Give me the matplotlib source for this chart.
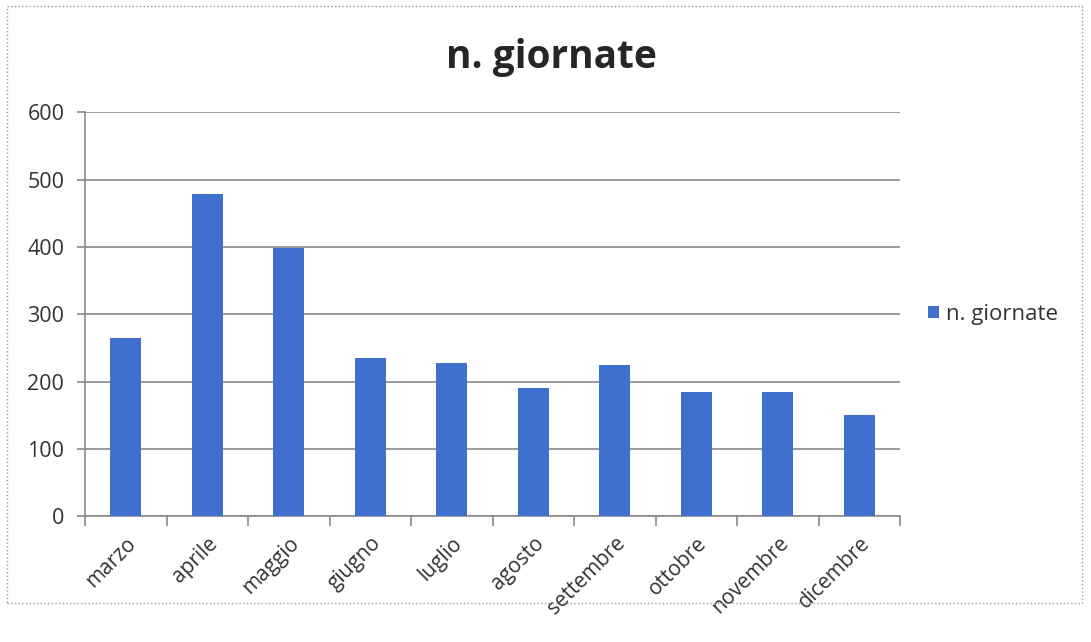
import matplotlib
matplotlib.use("Agg")
import matplotlib.pyplot as plt
from matplotlib.patches import Rectangle
import numpy as np

# monthly values
mesi = ["marzo", "aprile", "maggio", "giugno", "luglio",
        "agosto", "settembre", "ottobre", "novembre", "dicembre"]
giornate = [265, 479, 399, 235, 227, 191, 225, 184, 184, 150]
y_ticks = [0, 100, 200, 300, 400, 500, 600]

plt.rcParams['font.family'] = ['Open Sans', 'DejaVu Sans']

fig = plt.figure(figsize=(10.91, 6.42), dpi=100)
ax = fig.add_axes([0.078, 0.196, 0.747, 0.629])

x = np.arange(len(mesi))
ax.bar(x, giornate, width=0.38, color='#3f6fcf', label='n. giornate', zorder=3)

ax.set_xlim(-0.5, len(mesi) - 0.5)
ax.set_ylim(0, 600)
ax.set_yticks(y_ticks)
ax.set_yticklabels([str(v) for v in y_ticks], fontsize=15.5, color='#333333')
ax.yaxis.grid(True, color='#8a8a8a', linewidth=1.2, zorder=0)
ax.tick_params(axis='y', length=6, color='#8a8a8a', width=1.2, pad=9)

# category ticks sit between the bars, labels under the bars
ax.set_xticks(np.arange(len(mesi) + 1) - 0.5)
ax.set_xticklabels([])
ax.set_xticks(x, minor=True)
ax.set_xticklabels(mesi, minor=True, rotation=45, ha='right', va='top',
                   rotation_mode='anchor', fontsize=15, color='#333333')
ax.tick_params(axis='x', which='major', length=7, color='#8a8a8a', width=1.2)
ax.tick_params(axis='x', which='minor', length=0, pad=12)

for s in ['top', 'right']:
    ax.spines[s].set_visible(False)
ax.spines['left'].set_color('#8a8a9a')
ax.spines['left'].set_linewidth(1.2)
ax.spines['bottom'].set_color('#8a8a8a')
ax.spines['bottom'].set_linewidth(1.2)

fig.text(0.505, 0.91, "n. giornate", ha='center', va='center',
         fontsize=28, fontweight='bold', color='#262626')

ax.legend(loc='center left', bbox_to_anchor=(1.01, 0.5), frameon=False,
          fontsize=16, handlelength=0.5, handleheight=0.5, handletextpad=0.3,
          labelcolor='#333333')

# thin border around the whole chart
fig.patches.append(Rectangle((0.006, 0.06), 0.986, 0.93, transform=fig.transFigure,
                             fill=False, edgecolor='#9a9a9a', linewidth=1.0,
                             linestyle=':'))

plt.savefig("out.png", dpi=100)
